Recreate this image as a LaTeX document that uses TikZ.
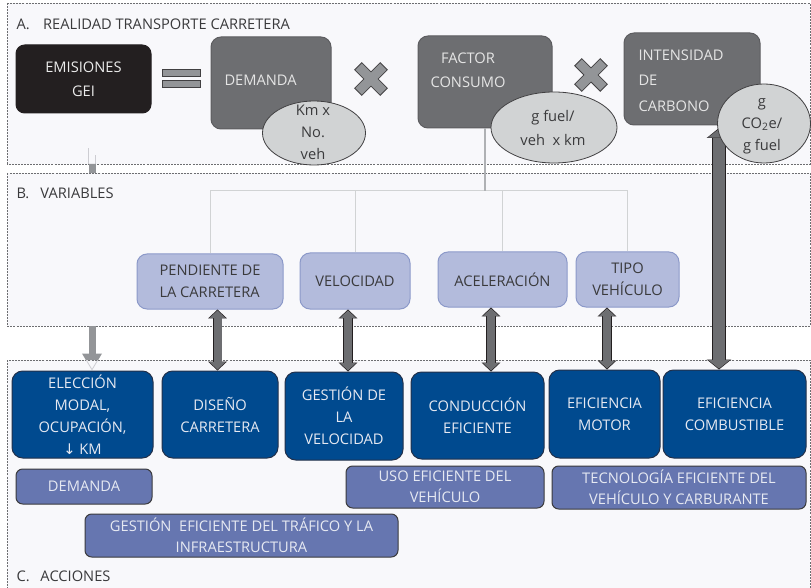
\documentclass[tikz,border=0pt]{standalone}
\usepackage{fontspec}
\setmainfont{Open Sans}
\newfontfamily\arrowfont{DejaVu Sans}
\usetikzlibrary{shapes.geometric,arrows.meta,calc,backgrounds}

\definecolor{panelfill}{HTML}{F8F8FB}
\definecolor{panelline}{HTML}{6D6E71}
\definecolor{emisblack}{HTML}{231F20}
\definecolor{factgrey}{HTML}{6D6E71}
\definecolor{ellgrey}{HTML}{D1D3D4}
\definecolor{markgrey}{HTML}{939598}
\definecolor{markline}{HTML}{414042}
\definecolor{varblue}{HTML}{B3BBDC}
\definecolor{varline}{HTML}{8C99C9}
\definecolor{actblue}{HTML}{004A8F}
\definecolor{actline}{HTML}{22304A}
\definecolor{catblue}{HTML}{6676B0}
\definecolor{darktext}{HTML}{3A3A3C}
\definecolor{lighttext}{HTML}{E6E9F2}
\definecolor{treegrey}{HTML}{D1D3D4}
\definecolor{trunkgrey}{HTML}{AFB1B4}
\definecolor{ghostgrey}{HTML}{CDCDD2}

\tikzset{every picture/.style={line width=0.75pt}}
\tikzset{
  panel/.style={draw=panelline, fill=panelfill, dash pattern=on 1.5pt off 0.8pt},
  paneltitle/.style={anchor=base west, inner sep=0pt, text=darktext, font=\fontsize{11}{13}\selectfont},
  emisbox/.style={fill=emisblack, draw=emisblack, rounded corners=6.5pt, inner sep=0pt, align=center, text=white!92!black, font=\fontsize{11}{18}\selectfont},
  factbox/.style={fill=factgrey, draw=factgrey!85!black, rounded corners=7.5pt, inner sep=0pt},
  facttext/.style={inner sep=0pt, text=white!90!black, font=\fontsize{11}{19}\selectfont},
  unitell/.style={ellipse, fill=ellgrey, draw=markline, line width=0.6pt, inner sep=0pt},
  unittext/.style={inner sep=0pt, align=center, text=darktext, font=\fontsize{11}{16.5}\selectfont},
  markshape/.style={fill=markgrey, draw=markline, line width=0.6pt},
  varbox/.style={fill=varblue, draw=varline, rounded corners=7.5pt, inner sep=0pt, align=left, text=darktext, font=\fontsize{11}{16.5}\selectfont},
  actbox/.style={fill=actblue, draw=actline, rounded corners=8pt, inner sep=0pt, align=center, text=lighttext, font=\fontsize{11}{16.5}\selectfont},
  catbox/.style={fill=catblue, draw=darktext, rounded corners=5pt, inner sep=0pt, align=center, text=lighttext, font=\fontsize{11}{15.75}\selectfont},
  treeline/.style={draw=treegrey, line width=0.75pt},
  trunkline/.style={draw=trunkgrey, line width=1pt},
  dblarrow/.style={draw=factgrey, line width=6pt, shorten <=0.7pt, shorten >=0.7pt,
    {Triangle[width=12pt,length=5.7pt,line width=0pt 0 0]}-{Triangle[width=12pt,length=5.7pt,line width=0pt 0 0]},
    preaction={draw=emisblack, line width=7.2pt, shorten <=0pt, shorten >=0pt,
    {Triangle[width=14pt,length=6.6pt,line width=0pt 0 0]}-{Triangle[width=14pt,length=6.6pt,line width=0pt 0 0]}}},
  bigarrow/.style={draw=factgrey, line width=9pt, shorten <=0.7pt, shorten >=0.7pt,
    {Triangle[width=16.5pt,length=6.5pt,line width=0pt 0 0]}-{Triangle[width=16.5pt,length=6.5pt,line width=0pt 0 0]},
    preaction={draw=emisblack, line width=10.2pt, shorten <=0pt, shorten >=0pt,
    {Triangle[width=18.5pt,length=7.5pt,line width=0pt 0 0]}-{Triangle[width=18.5pt,length=7.5pt,line width=0pt 0 0]}}},
  demarrow/.style={draw=markgrey, line width=5.25pt, -{Triangle[width=15pt,length=12.75pt,line width=0pt 0 0]}},
  demghost/.style={draw=ghostgrey, line width=5.85pt, postaction={draw=panelfill, line width=4.65pt}},
  demghosthead/.style={draw=ghostgrey, line width=0.6pt, -{Triangle[open,width=15pt,length=12.75pt]}},
}

\begin{document}
\begin{tikzpicture}[x=0.75pt,y=0.75pt,yscale=-1,xscale=1]
    \useasboundingbox (0,0) rectangle (811,588);

    % Text Node
    \node[paneltitle] (titA) at (16,30) {\makebox[20pt][l]{A.}REALIDAD TRANSPORTE CARRETERA};
    % Text Node
    \node[paneltitle] (titB) at (16,199) {\makebox[18pt][l]{B.}VARIABLES};
    % Text Node
    \node[paneltitle] (titC) at (16,581) {\makebox[18pt][l]{C.}ACCIONES};

    %Shape: Rounded Rect [id:emis]
    \node[emisbox, minimum width=101.25pt, minimum height=51pt] (emis) at (83.5,79) {EMISIONES\\GEI};
    %Shape: Equals
    \draw[markshape] (162,69) rectangle (200,76);
    \draw[markshape] (162,80) rectangle (200,87);

    %Shape: Rounded Rect [id:dem]
    \node[factbox, minimum width=90pt, minimum height=69pt] (dem) at (271,83) {};
    \node[facttext, anchor=base west] (demtxt) at (224,86) {DEMANDA};
    %Shape: Ellipse [id:demell]
    \node[unitell, minimum width=77.25pt, minimum height=48pt] (demell) at (314,133) {};
    \node[unittext] (demunit) at (313,132.5) {Km x\\No.\\veh};

    %Shape: Rounded Rect [id:fact]
    \node[factbox, minimum width=100.5pt, minimum height=69pt] (fact) at (485,82) {};
    \node[facttext, align=center, font=\fontsize{11}{18}\selectfont] (facttxt) at (468,70) {FACTOR\\CONSUMO};
    %Shape: Ellipse [id:factell]
    \node[unitell, minimum width=94.5pt, minimum height=53.25pt] (factell) at (554,127.5) {};
    \node[unittext, font=\fontsize{11}{18}\selectfont] (factunit) at (553,127.5) {g fuel/\\veh~~x km};

    %Shape: Rounded Rect [id:intens]
    \node[factbox, minimum width=102pt, minimum height=69pt] (intens) at (692,79) {};
    \node[facttext, anchor=west, align=left] (intenstxt) at (638,80.5) {INTENSIDAD\\DE\\CARBONO};
    %Shape: Ellipse [id:intell]
    \node[unitell, minimum width=69.75pt, minimum height=59.25pt] (intell) at (764,123.5) {};
    \node[unittext] (intunit) at (762,126) {g\\CO\textsubscript{2}e/\\g fuel};

    %Shape: Cross
    \foreach \cx/\cy in {371/79, 591/75}
      \draw[markshape, shift={(\cx,\cy)}, rotate=45] (-18,-5) -- (-5,-5) -- (-5,-18) -- (5,-18) -- (5,-5) -- (18,-5) -- (18,5) -- (5,5) -- (5,18) -- (-5,18) -- (-5,5) -- (-18,5) -- cycle;

    % Variables
    \node[varbox, minimum width=109.5pt, minimum height=41.25pt] (pend) at (210,281.5) {PENDIENTE DE\\LA CARRETERA};
    \node[varbox, minimum width=82.5pt, minimum height=42pt] (velo) at (355,281) {VELOCIDAD};
    \node[varbox, minimum width=96.75pt, minimum height=41.25pt] (acel) at (502.5,279.5) {ACELERACIÓN};
    \node[varbox, align=center, minimum width=77.25pt, minimum height=41.25pt] (tipo) at (627.5,279.5) {TIPO\\VEHÍCULO};

    % Acciones
    \node[actbox, minimum width=105.75pt, minimum height=65.25pt] (elec) at (82.5,414.5) {ELECCIÓN\\MODAL,\\OCUPACIÓN,\\{\arrowfont ↓} KM};
    \node[actbox, minimum width=87pt, minimum height=65.25pt] (dise) at (220,414.5) {DISEÑO\\CARRETERA};
    \node[actbox, minimum width=88.5pt, minimum height=66pt] (gest) at (344,416) {GESTIÓN DE\\LA\\VELOCIDAD};
    \node[actbox, minimum width=99.75pt, minimum height=65.25pt] (cond) at (477.5,415.5) {CONDUCCIÓN\\EFICIENTE};
    \node[actbox, minimum width=83.25pt, minimum height=66pt] (moto) at (604.5,414) {EFICIENCIA\\MOTOR};
    \node[actbox, minimum width=107.25pt, minimum height=66pt] (comb) at (734.5,414) {EFICIENCIA\\COMBUSTIBLE};

    \node[catbox, minimum width=102pt, minimum height=26.25pt] (cdem) at (84,486.5) {DEMANDA};
    \node[catbox, minimum width=148.5pt, minimum height=31.5pt] (cuso) at (445,487) {USO EFICIENTE DEL\\VEHÍCULO};
    \node[catbox, minimum width=190.5pt, minimum height=32.25pt] (ctec) at (679,487.5) {TECNOLOGÍA EFICIENTE DEL\\VEHÍCULO Y CARBURANTE};
    \node[catbox, minimum width=234.75pt, minimum height=32.25pt] (cges) at (241.5,535.5) {GESTIÓN~~EFICIENTE DEL TRÁFICO Y LA\\INFRAESTRUCTURA};

    %Straight Lines: tree from factor consumo
    \coordinate (bus) at (0,191);
    \foreach \v in {pend,velo,acel,tipo}
      \draw[treeline] (fact.south |- bus) -| (\v.north);
    \draw[trunkline] (fact.south) -- (fact.south |- bus);

    %Double arrows
    \foreach \a/\b/\dx in {pend/dise/-2.5, velo/gest/4, acel/cond/13.5, tipo/moto/2.5}
      \draw[dblarrow] ($(\b.north)+(\dx,0)$) coordinate (tip) -- (tip |- \a.south);

    \begin{scope}[on background layer]
      %Shape: Panels
      \draw[panel] (7,3) rectangle (810,164);
      \draw[panel] (7,173) rectangle (810,326);
      \draw[panel] (7,360) rectangle (810,600);
      %Demand arrow, seen through the panels
      \begin{scope}
        \clip (7,3) rectangle (810,164);
        \draw[demghost] ($(demell.center)+(0,18.5)$) -| ($(elec.north)+(9.5,0)$);
      \end{scope}
      \begin{scope}
        \clip (0,164) rectangle (811,173) (0,326) rectangle (811,360);
        \draw[demarrow] ($(demell.center)+(0,18.5)$) -| ($(elec.north)+(9.5,0)$);
      \end{scope}
      \begin{scope}
        \clip (7,360) rectangle (810,588);
        \draw[demghosthead] ($(demell.center)+(0,18.5)$) -| ($(elec.north)+(9.5,0)$);
      \end{scope}
      %Big arrow from carbon intensity
      \draw[bigarrow] ($(intell.center)+(-45,4.5)$) coordinate (ctop) -- (ctop |- comb.north);
    \end{scope}

\end{tikzpicture}
\end{document}
